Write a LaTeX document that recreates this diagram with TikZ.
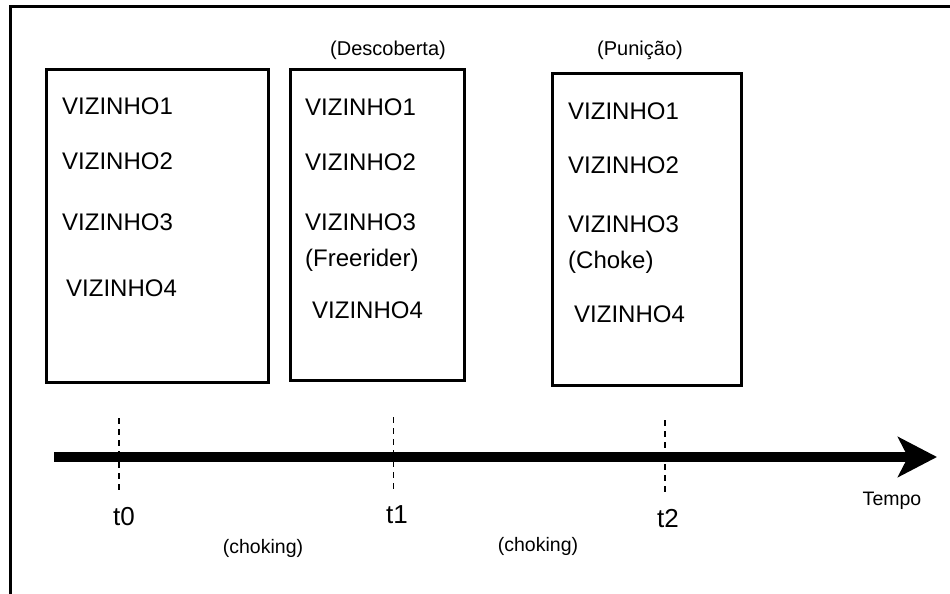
\documentclass[tikz,border=0pt]{standalone}
\usepackage{fontspec}
\setmainfont{Liberation Sans}
\usetikzlibrary{arrows.meta}
\begin{document}
\begin{tikzpicture}[x=1pt,y=-1pt,
  frameline/.style={line width=3pt},
  panel/.style={draw, line width=3pt, inner sep=0pt},
  vz/.style={anchor=base west, inner sep=0pt, font=\fontsize{24}{28}\selectfont},
  phase/.style={anchor=base, inner sep=0pt, font=\fontsize{20}{24}\selectfont},
  tlabel/.style={anchor=base, inner sep=0pt, font=\fontsize{26}{30}\selectfont},
  smalllabel/.style={anchor=base, inner sep=0pt, font=\fontsize{19.5}{23}\selectfont},
  tickline/.style={line width=1.5pt, dash pattern=on 6pt off 5pt},
  timeaxis/.style={line width=10pt, -{Stealth[length=39pt, width=40pt, inset=10pt]}}
]
\useasboundingbox (0,0) rectangle (950,594);
% outer frame (top and left edges visible)
\coordinate (fr) at (951,7);
\coordinate (ftl) at (10,7);
\coordinate (fb) at (10,595);
\draw[frameline] (fr) -- (ftl) -- (fb);

% panels
\node[panel, minimum width=222pt, minimum height=312.5pt] (p1) at (157.5,225.75) {};
\node[panel, minimum width=174pt, minimum height=310.5pt] (p2) at (377.5,225.25) {};
\node[panel, minimum width=188.5pt, minimum height=311.5pt] (p3) at (646.75,229.25) {};

% panel 1 texts
\node[vz] (a1) at (62,114) {VIZINHO1};
\node[vz] (a2) at (62,169) {VIZINHO2};
\node[vz] (a3) at (62,230) {VIZINHO3};
\node[vz] (a4) at (66,296) {VIZINHO4};

% panel 2 texts
\node[phase] (ph2) at (388,56) {(Descoberta)};
\node[vz] (b1) at (305,115) {VIZINHO1};
\node[vz] (b2) at (305,170) {VIZINHO2};
\node[vz] (b3) at (305,230) {VIZINHO3};
\node[vz] (b3x) at (305,266) {(Freerider)};
\node[vz] (b4) at (312,318) {VIZINHO4};

% panel 3 texts
\node[phase] (ph3) at (640,56) {(Punição)};
\node[vz] (c1) at (568,119) {VIZINHO1};
\node[vz] (c2) at (568,173) {VIZINHO2};
\node[vz] (c3) at (568,232) {VIZINHO3};
\node[vz] (c3x) at (568,268) {(Choke)};
\node[vz] (c4) at (574,322) {VIZINHO4};

% time axis
\coordinate (ax0) at (54,457);
\coordinate (ax1) at (937,457);
\draw[timeaxis] (ax0) -- (ax1);
\node[smalllabel] (tempo) at (892,505) {Tempo};

% time marks
\coordinate (d0a) at (119,418); \coordinate (d0b) at (119,493);
\coordinate (d1a) at (393.5,417); \coordinate (d1b) at (393.5,492);
\coordinate (d2a) at (665,420); \coordinate (d2b) at (665,495);
\draw[tickline] (d0a) -- (d0b);
\draw[tickline] (d1a) -- (d1b);
\draw[tickline] (d2a) -- (d2b);

\node[tlabel] (t0) at (124,525) {t0};
\node[tlabel] (t1) at (397,523) {t1};
\node[tlabel] (t2) at (668,527) {t2};

\node[smalllabel] (ch1) at (263,553) {(choking)};
\node[smalllabel] (ch2) at (538,551) {(choking)};
\end{tikzpicture}
\end{document}
